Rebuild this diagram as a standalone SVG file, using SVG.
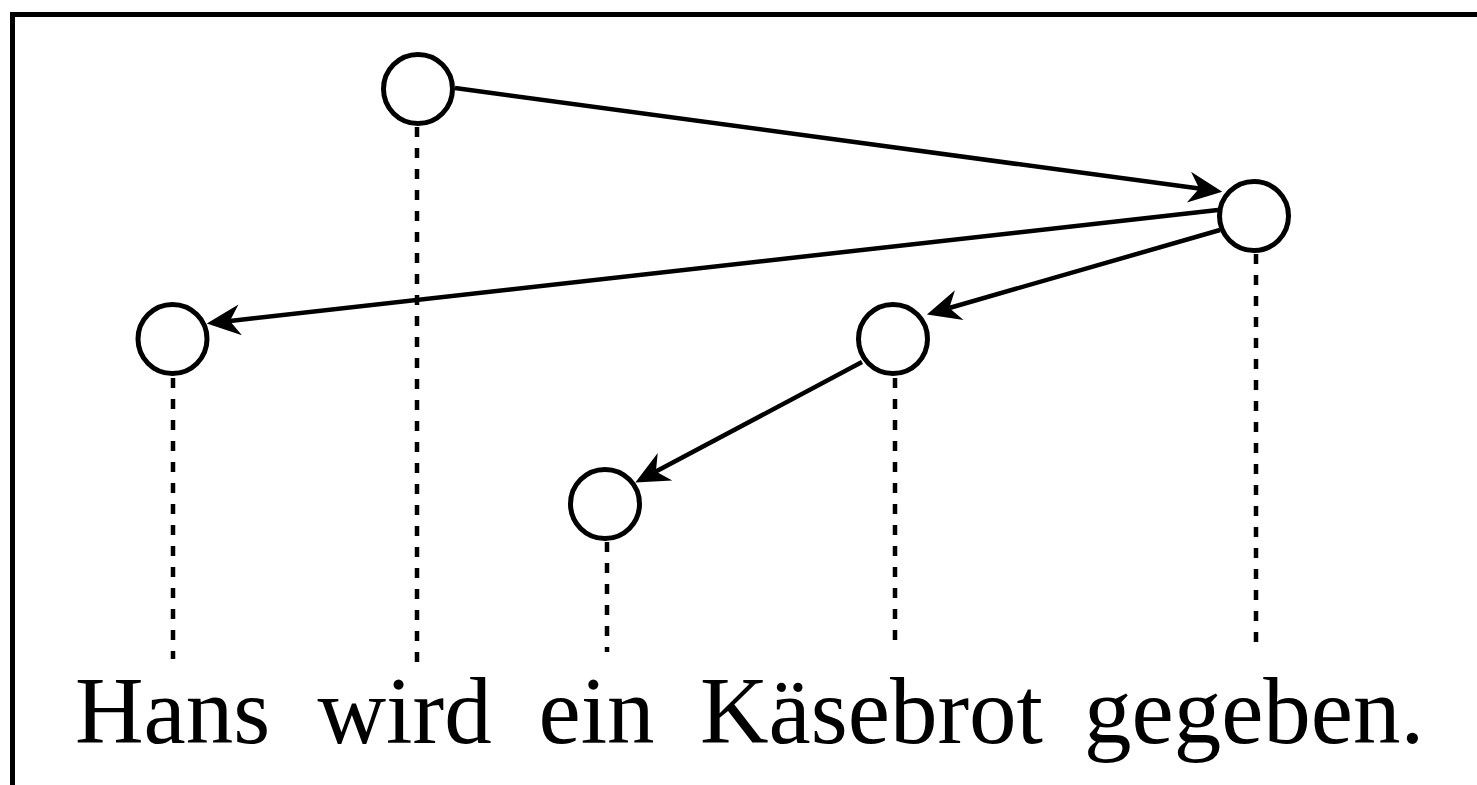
<svg xmlns="http://www.w3.org/2000/svg" width="1477" height="785" viewBox="0 0 1477 785">
<style>
.node{fill:#fff;stroke:#000;stroke-width:5}
.edge{fill:none;stroke:#000;stroke-width:4.5}
.proj{fill:none;stroke:#000;stroke-width:4.5;stroke-dasharray:10 11}
.word{font-family:"Liberation Serif","Times New Roman",serif;font-size:95px;fill:#000}
</style>
<defs>
<marker id="arr" markerUnits="userSpaceOnUse" markerWidth="44" markerHeight="44" viewBox="-12 -16 34 32" refX="0" refY="0" orient="auto">
<path d="M18,0 L-8,-12 L0,0 L-8,12 Z" fill="#000"/>
</marker>
</defs>
<rect x="12.5" y="14.5" width="1480" height="800" fill="#fff" stroke="#000" stroke-width="5"/>
<g id="projections">
<line class="proj" x1="173" y1="378" x2="173" y2="659"/>
<line class="proj" x1="417" y1="127" x2="417" y2="663"/>
<line class="proj" x1="607" y1="542" x2="607" y2="652"/>
<line class="proj" x1="895" y1="378" x2="895" y2="644"/>
<line class="proj" x1="1256" y1="254" x2="1256" y2="646"/>
</g>
<g id="connectors">
<line class="edge" x1="455" y1="88" x2="1199.2" y2="188.6" marker-end="url(#arr)"/>
<line class="edge" x1="1218" y1="210" x2="229.9" y2="321" marker-end="url(#arr)"/>
<line class="edge" x1="1220" y1="230" x2="949.3" y2="308" marker-end="url(#arr)"/>
<line class="edge" x1="862" y1="362" x2="655.9" y2="471.6" marker-end="url(#arr)"/>
</g>
<g id="n-wird"><circle class="node" cx="418" cy="89" r="34.5"/></g>
<g id="n-gegeben"><circle class="node" cx="1254" cy="216" r="34.5"/></g>
<g id="n-hans"><circle class="node" cx="172.5" cy="339" r="34.5"/></g>
<g id="n-kaesebrot"><circle class="node" cx="893" cy="339" r="34.5"/></g>
<g id="n-ein"><circle class="node" cx="605" cy="504" r="34.5"/></g>
<text class="word" y="743"><tspan x="75">Hans</tspan><tspan x="317.5">wird</tspan><tspan x="538.5">ein</tspan><tspan x="700">Käsebrot</tspan><tspan x="1084">gegeben.</tspan></text>
</svg>
